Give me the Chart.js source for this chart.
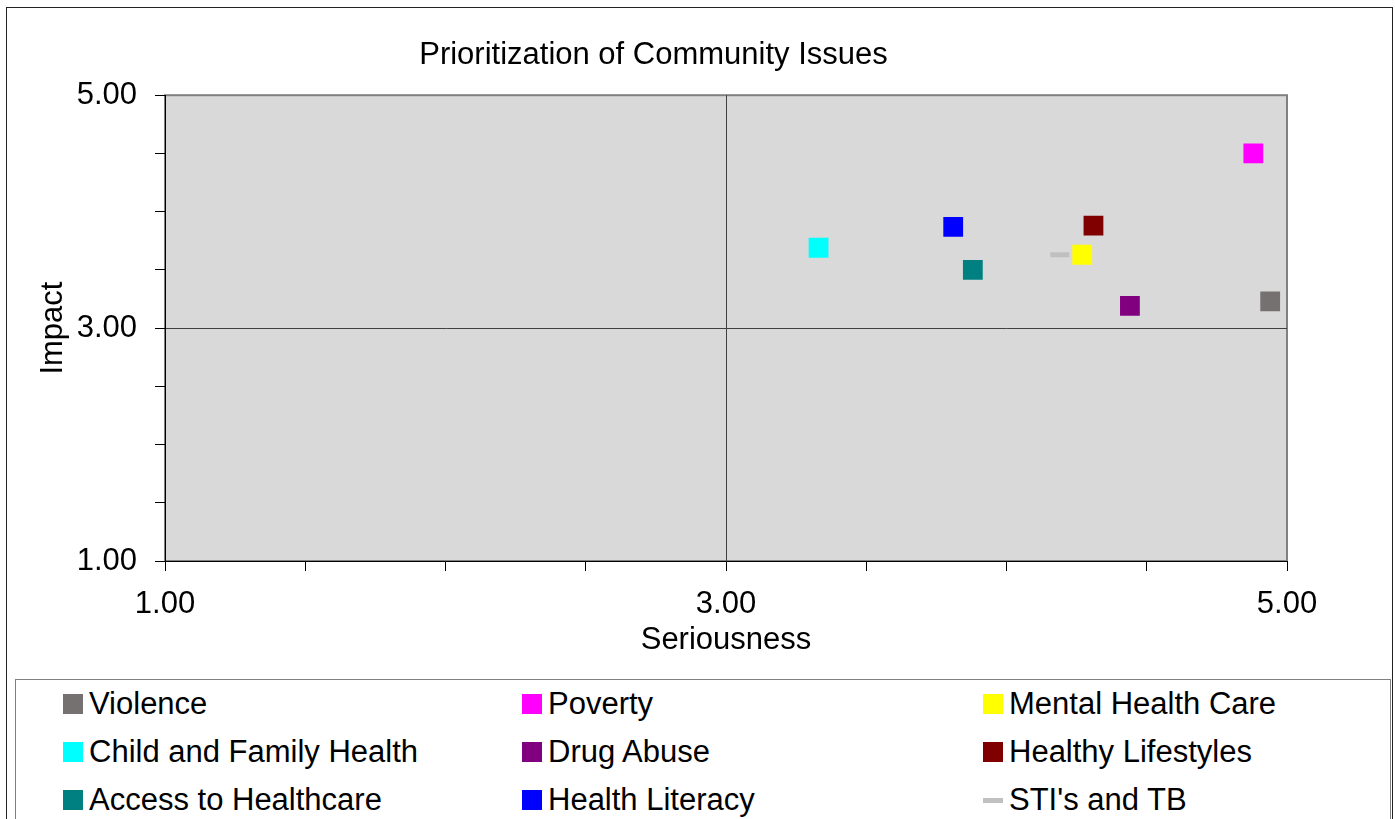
<!DOCTYPE html>
<html>
<head>
<meta charset="utf-8">
<script src="https://cdn.jsdelivr.net/npm/chart.js@4/dist/chart.umd.min.js"></script>
<style>
  html, body { margin: 0; padding: 0; background: #fff; overflow: hidden; }
  body { width: 1395px; height: 819px; position: relative; font-family: "Liberation Sans", Arial, sans-serif; }
  #frame { position: absolute; left: 6px; top: 7px; width: 1385px; height: 900px; border: 1px solid #222; }
  #chart { position: absolute; left: 0; top: 0; }
  #legend { position: absolute; left: 15px; top: 679px; width: 1374px; height: 300px; border: 1px solid #808080; background: #fff; }
  .item { position: absolute; height: 30px; display: flex; align-items: center; font-size: 31px; color: #000; white-space: nowrap; }
  .box { width: 20px; height: 20px; margin-right: 6px; }
  .dash { width: 20px; height: 5px; margin-right: 6px; }
</style>
</head>
<body>
<div id="frame"></div>
<canvas id="chart" width="1395" height="679"></canvas>
<div id="legend"></div>
<script>
// данные по проблемам
const issues = ['Violence', 'Poverty', 'Mental Health Care', 'Child and Family Health', 'Drug Abuse',
                'Healthy Lifestyles', 'Access to Healthcare', 'Health Literacy', "STI's and TB"];
const seriousness = [4.94, 4.88, 4.27, 3.33, 4.44, 4.31, 3.88, 3.81, 4.19];
const impact      = [3.23, 4.50, 3.63, 3.69, 3.19, 3.88, 3.50, 3.87, 3.63];
const colors = ['#767171', '#ff00ff', '#ffff00', '#00ffff', '#800080', '#800000', '#008080', '#0000ff', '#c0c0c0'];
const tickLabels = [1, 3, 5];

const plotBg = {
    id: 'plotBg',
    beforeDraw(chart) {
        const a = chart.chartArea, ctx = chart.ctx;
        ctx.save();
        ctx.fillStyle = '#d9d9d9';
        ctx.fillRect(a.left, a.top, a.right - a.left, a.bottom - a.top);
        ctx.strokeStyle = '#808080';
        ctx.lineWidth = 2;
        ctx.strokeRect(a.left, a.top, a.right - a.left, a.bottom - a.top);
        ctx.restore();
    }
};

const datasets = issues.map(function(name, i) {
    const isLine = i === issues.length - 1;
    return {
        label: name,
        data: [{ x: seriousness[i], y: impact[i] }],
        pointStyle: isLine ? 'line' : 'rect',
        pointRadius: isLine ? 9.5 : 14,
        pointHoverRadius: isLine ? 9.5 : 14,
        backgroundColor: colors[i],
        borderColor: colors[i],
        pointBorderWidth: isLine ? 5 : 0
    };
});

const font = { family: '"Liberation Sans", Arial, sans-serif', size: 31 };

function gridColor(ctx) {
    return ctx.tick && ctx.tick.value === 3 ? '#404040' : 'rgba(0,0,0,0)';
}
function tickText(value) {
    return tickLabels.includes(value) ? value.toFixed(2) : '';
}

new Chart(document.getElementById('chart'), {
    type: 'scatter',
    data: { datasets: datasets },
    options: {
        responsive: false,
        animation: false,
        layout: { padding: { left: 20, right: 108, top: 20, bottom: 10 } },
        scales: {
            x: {
                type: 'linear', min: 1, max: 5,
                afterFit: function(s) { s.height = 108; },
                ticks: { stepSize: 0.5, autoSkip: false, maxRotation: 0, callback: tickText, font: font, color: '#000', padding: 15 },
                grid: { color: gridColor, tickColor: '#000', tickLength: 10, lineWidth: 1 },
                border: { color: '#000', width: 1 },
                title: { display: true, text: 'Seriousness', font: font, color: '#000', padding: { top: 0, bottom: 10 } }
            },
            y: {
                type: 'linear', min: 1, max: 5,
                afterFit: function(s) { s.width = 145; },
                ticks: { stepSize: 0.5, autoSkip: false, callback: tickText, font: font, color: '#000', padding: 18 },
                grid: { color: gridColor, tickColor: '#000', tickLength: 10, lineWidth: 1 },
                border: { color: '#000', width: 1 },
                title: { display: true, text: 'Impact', font: font, color: '#000', padding: { top: 15, bottom: 0 } }
            }
        },
        plugins: {
            legend: { display: false },
            tooltip: { enabled: false },
            title: {
                display: true,
                text: 'Prioritization of Community Issues',
                font: { family: font.family, size: 31, weight: 'normal' },
                color: '#000',
                padding: { top: 17, bottom: 21 }
            }
        }
    },
    plugins: [plotBg]
});

// легенда в три колонки
const legend = document.getElementById('legend');
const colX = [47, 506, 967];
const rowY = [9, 57, 105];
datasets.forEach(function(ds, i) {
    const el = document.createElement('div');
    el.className = 'item';
    el.style.left = colX[i % 3] + 'px';
    el.style.top = rowY[Math.floor(i / 3)] + 'px';
    const mark = document.createElement('span');
    mark.className = ds.pointStyle === 'line' ? 'dash' : 'box';
    mark.style.background = ds.backgroundColor;
    el.appendChild(mark);
    el.appendChild(document.createTextNode(ds.label));
    legend.appendChild(el);
});
</script>
</body>
</html>
